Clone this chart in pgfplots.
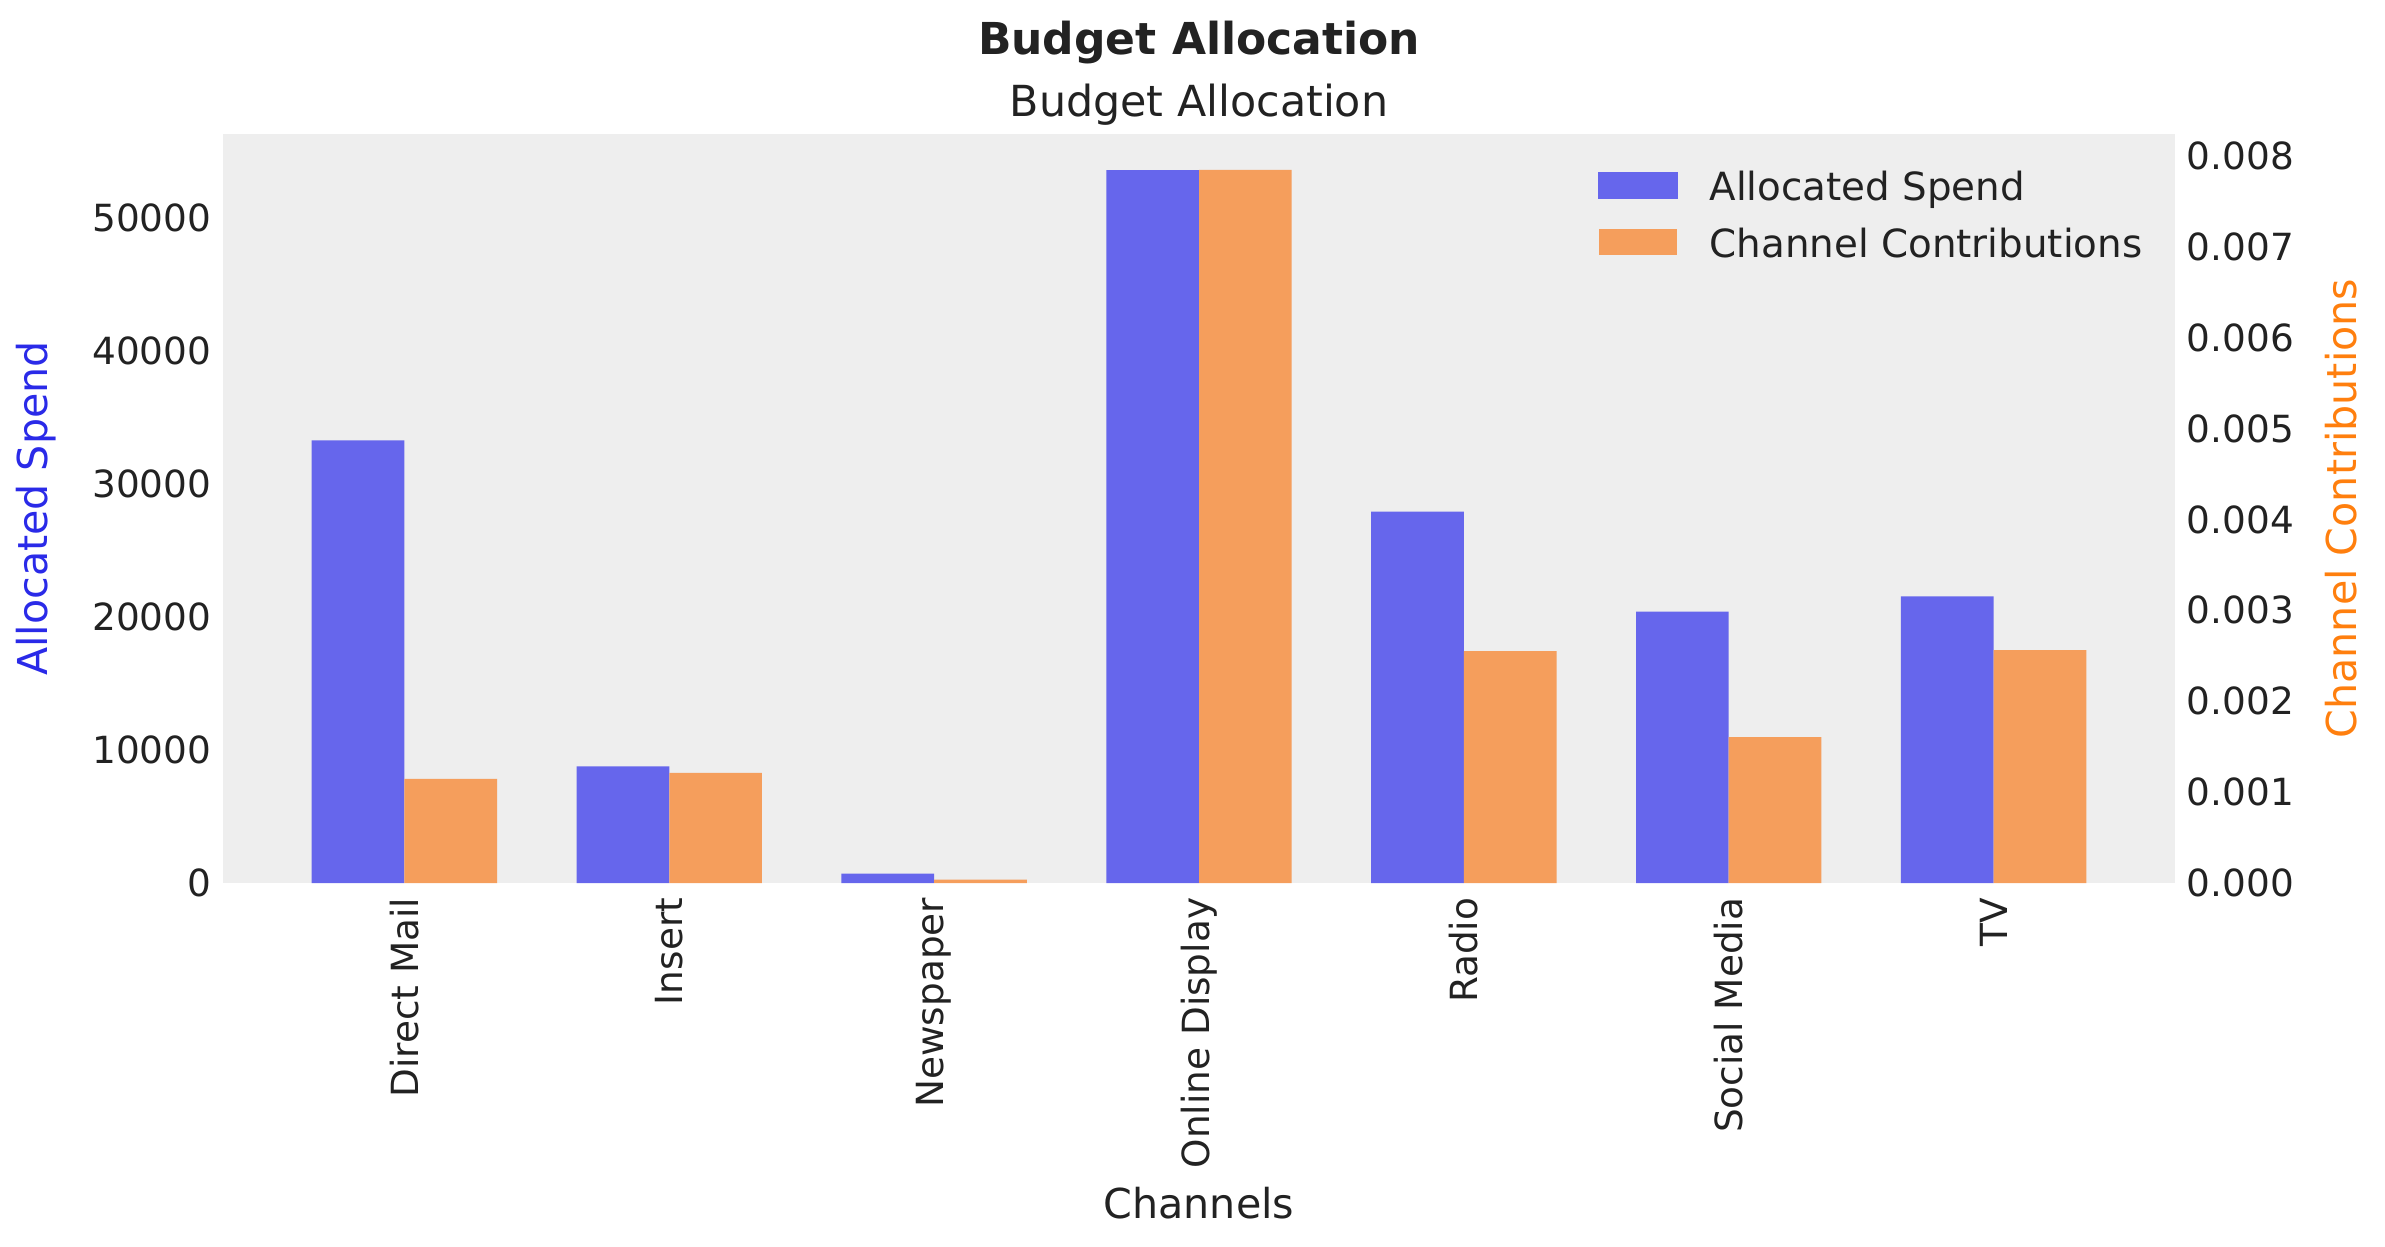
\documentclass[border=0pt]{standalone}
\usepackage{fontspec}
\setmainfont{DejaVu Sans}
\usepackage{pgfplots}
\usepackage{pgfplotstable}
\pgfplotsset{compat=1.18}
\definecolor{bg}{HTML}{EEEEEE}
\definecolor{barblue}{HTML}{6666EC}
\definecolor{barorange}{HTML}{F59E5C}
\definecolor{txt}{HTML}{222222}
\definecolor{lblblue}{HTML}{2A2AE8}
\definecolor{lblorange}{HTML}{FF7F0E}

\pgfplotstableread{
x spend contrib
0 33270 0.001146
1 8760 0.001211
2 705 0.0000385
3 53590 0.007844
4 27920 0.002552
5 20400 0.001604
6 21540 0.002563
}\data

\pgfplotsset{
  common/.style={
    scale only axis, width=488pt, height=187.25pt,
    at={(55.75pt,90.75pt)}, anchor=south west,
    xmin=-0.685, xmax=6.685,
    axis line style={draw=none},
    major tick length=0pt,
    tick style={draw=none},
    /pgf/number format/assume math mode=true,
    ticklabel style={font=\fontsize{9.35}{11}\selectfont, text=txt},
    label style={font=\fontsize{10.3}{12}\selectfont},
    yticklabel style={inner xsep=2.75pt},
    ybar, bar width=0.35,
  }
}

\begin{document}
\begin{tikzpicture}
\begin{axis}[common,
  axis background/.style={fill=bg},
  ymin=0, ymax=56300,
  ytick={0,10000,20000,30000,40000,50000},
  scaled y ticks=false,
  /pgf/number format/1000 sep={},
  xtick={0,1,2,3,4,5,6},
  xticklabels={Direct Mail,Insert,Newspaper,Online Display,Radio,Social Media,TV},
  xticklabel style={rotate=90, anchor=east, inner xsep=3.5pt, inner ysep=0pt},
  xlabel={Channels},
  xlabel style={at={(axis description cs:0.5,-0.4272)}, anchor=center, text=txt},
  ylabel={Allocated Spend},
  ylabel style={at={(axis description cs:-0.0958,0.5)}, anchor=center, text=lblblue},
]
\addplot[fill=barblue, draw=none, bar shift=-0.175] table[x=x,y=spend]{\data};
\end{axis}
\begin{axis}[common,
  ymin=0, ymax=0.00824,
  ytick={0,0.001,0.002,0.003,0.004,0.005,0.006,0.007,0.008},
  yticklabel pos=right,
  scaled y ticks=false,
  yticklabel style={/pgf/number format/.cd, fixed, fixed zerofill, precision=3},
  xtick=\empty,
  ylabel={Channel Contributions},
  ylabel style={at={(axis description cs:1.085,0.5)}, anchor=center, text=lblorange},
  legend style={at={(axis description cs:0.7044,0.9499)}, anchor=north west,
    draw=none, fill=none, inner sep=0pt, outer sep=0pt, row sep=5.1pt, column sep=8pt,
    nodes={inner sep=0pt, text height=7pt, text depth=2pt, font=\fontsize{9.7}{11}\selectfont, text=txt}},
  legend cell align=left,
]
\addlegendimage{legend image code/.code={\fill[barblue] (0pt,-1.85pt) rectangle (19.5pt,4.65pt);}}
\addlegendentry{Allocated Spend}
\addplot[fill=barorange, draw=none, bar shift=0.175,
  legend image code/.code={\fill[barorange] (0pt,-1.85pt) rectangle (19.5pt,4.65pt);}]
  table[x=x,y=contrib]{\data};
\addlegendentry{Channel Contributions}
\end{axis}
\node[anchor=base, font={\bfseries\fontsize{11}{13}\selectfont}, text=txt, inner sep=0pt] at (299.75pt,298pt) {Budget Allocation};
\node[anchor=base, font={\fontsize{10.7}{13}\selectfont}, text=txt, inner sep=0pt] at (299.75pt,282.3pt) {Budget Allocation};
\pgfresetboundingbox
\useasboundingbox (0pt,0pt) rectangle (596.25pt,311.5pt);
\end{tikzpicture}
\end{document}
